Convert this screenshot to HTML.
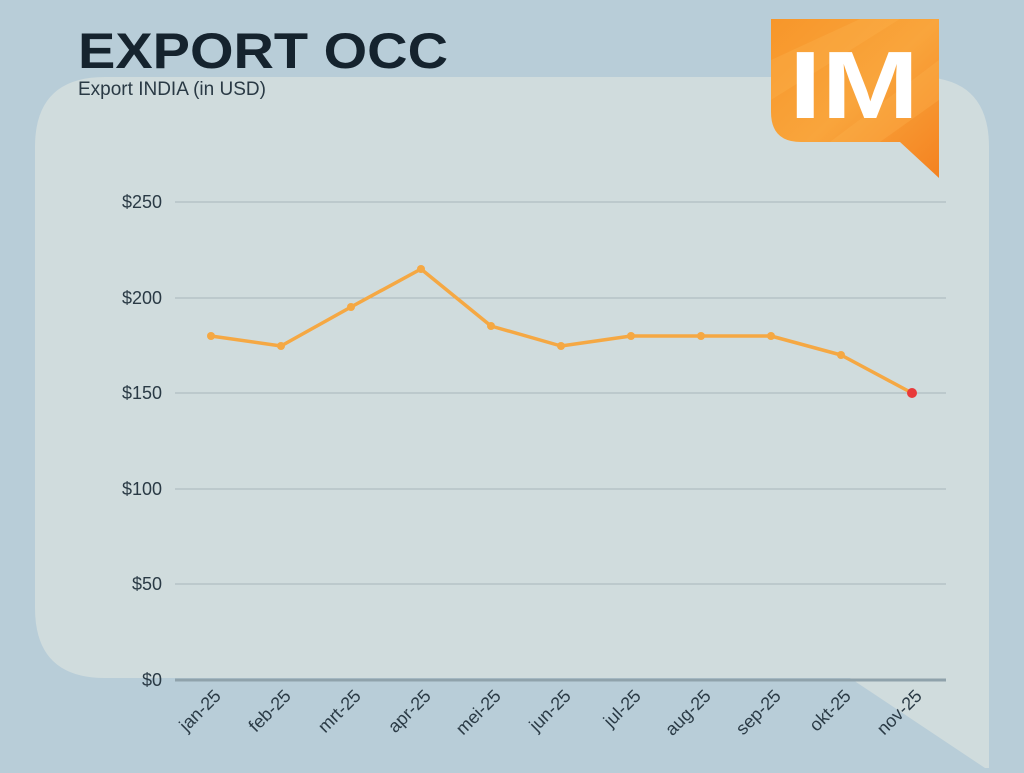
<!DOCTYPE html>
<html><head><style>
body{margin:0;width:1024px;height:768px;overflow:hidden;background:#b8cdd8;font-family:"Liberation Sans",sans-serif}
</style></head><body>
<svg width="1024" height="768" xmlns="http://www.w3.org/2000/svg">
<defs><linearGradient id="g" x1="0" y1="0" x2="1" y2="1"><stop offset="0" stop-color="#f7962a"/><stop offset="0.5" stop-color="#f9a53c"/><stop offset="1" stop-color="#f48220"/></linearGradient></defs>
<rect width="1024" height="768" fill="#b8cdd8"/>
<path d="M105 77 H919 Q989 77 989 147 V768 L985 768 L850 678 H105 Q35 678 35 608 V147 Q35 77 105 77 Z" fill="#d0dcdd"/>
<text x="78" y="68" font-size="50" font-weight="bold" fill="#15232e" textLength="370" lengthAdjust="spacingAndGlyphs">EXPORT OCC</text>
<text x="78" y="95" font-size="19" fill="#2a3a45">Export INDIA (in USD)</text>
<path d="M771 19 H939 V178 L900 142 H801 Q771 142 771 112 Z" fill="url(#g)"/>
<path d="M771 60 L860 19 H900 L771 100 Z M830 142 L939 60 V100 L880 142 Z" fill="#fbb14d" opacity="0.35"/>
<text x="789" y="118" font-size="96" font-weight="bold" fill="#fff" textLength="130" lengthAdjust="spacingAndGlyphs">IM</text>
<g stroke="#a9b6ba" stroke-width="1">
<line x1="175" y1="202" x2="946" y2="202"/><line x1="175" y1="298" x2="946" y2="298"/><line x1="175" y1="393" x2="946" y2="393"/><line x1="175" y1="489" x2="946" y2="489"/><line x1="175" y1="584" x2="946" y2="584"/>
</g>
<line x1="175" y1="680" x2="946" y2="680" stroke="#8fa2ab" stroke-width="3"/>
<g font-size="18" fill="#2a3a45" text-anchor="end">
<text x="162" y="208">$250</text><text x="162" y="304">$200</text><text x="162" y="399">$150</text><text x="162" y="495">$100</text><text x="162" y="590">$50</text><text x="162" y="686">$0</text>
</g>
<polyline fill="none" stroke="#f5a843" stroke-width="3.5" stroke-linejoin="round" points="211,336 281,346 351,307 421,269 491,326 561,346 631,336 701,336 771,336 841,355 912,393"/>
<g fill="#f5a843">
<circle cx="211" cy="336" r="4"/><circle cx="281" cy="346" r="4"/><circle cx="351" cy="307" r="4"/><circle cx="421" cy="269" r="4"/><circle cx="491" cy="326" r="4"/><circle cx="561" cy="346" r="4"/><circle cx="631" cy="336" r="4"/><circle cx="701" cy="336" r="4"/><circle cx="771" cy="336" r="4"/><circle cx="841" cy="355" r="4"/>
</g>
<circle cx="912" cy="393" r="5" fill="#e83a3a"/>
<g font-size="18" fill="#2a3a45" text-anchor="end">
<text transform="translate(222,697) rotate(-45)">jan-25</text>
<text transform="translate(292,697) rotate(-45)">feb-25</text>
<text transform="translate(362,697) rotate(-45)">mrt-25</text>
<text transform="translate(432,697) rotate(-45)">apr-25</text>
<text transform="translate(502,697) rotate(-45)">mei-25</text>
<text transform="translate(572,697) rotate(-45)">jun-25</text>
<text transform="translate(642,697) rotate(-45)">jul-25</text>
<text transform="translate(712,697) rotate(-45)">aug-25</text>
<text transform="translate(782,697) rotate(-45)">sep-25</text>
<text transform="translate(852,697) rotate(-45)">okt-25</text>
<text transform="translate(923,697) rotate(-45)">nov-25</text>
</g>
</svg>
</body></html>
